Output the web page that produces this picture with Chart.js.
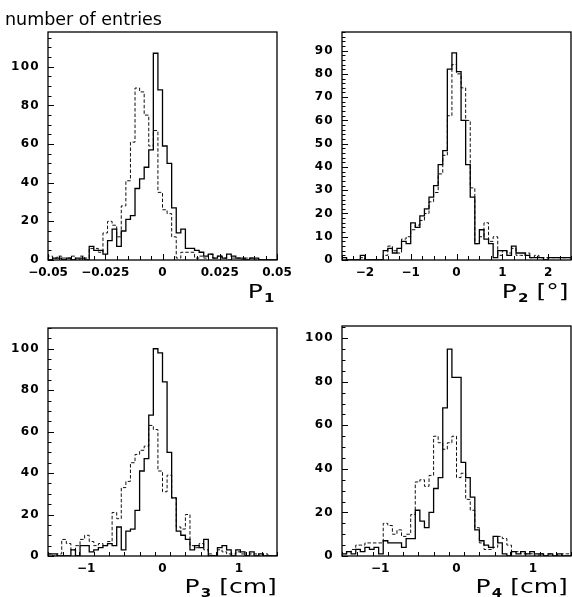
<!DOCTYPE html>
<html><head><meta charset="utf-8">
<script src="https://cdn.jsdelivr.net/npm/chart.js@4.4.0/dist/chart.umd.min.js"></script>
<style>
html,body{margin:0;padding:0;background:#fff;}
#wrap{position:relative;width:572px;height:597px;overflow:hidden;background:#fff;}
canvas{position:absolute;}
.t{position:absolute;font-family:'DejaVu Sans',sans-serif;color:#000;white-space:nowrap;line-height:20px;}
.ax{font-size:20px;transform:scaleX(1.25);transform-origin:100% 50%;}
.ax sub{font-size:12px;font-weight:bold;vertical-align:-4px;line-height:0;margin-left:1px;}
</style></head><body>
<div id="wrap">
<canvas id="c1" width="300" height="290" style="left:0;top:0"></canvas>
<canvas id="c2" width="286" height="290" style="left:286px;top:0"></canvas>
<canvas id="c3" width="300" height="296" style="left:0;top:290px"></canvas>
<canvas id="c4" width="286" height="296" style="left:286px;top:290px"></canvas>
<div class="t" style="left:5px;top:9px;font-size:17.5px">number of entries</div>
<div class="t ax" style="right:298px;top:281px">P<sub>1</sub></div>
<div class="t ax" style="right:4px;top:281px">P<sub>2</sub> [°]</div>
<div class="t ax" style="right:295px;top:576px">P<sub>3</sub> [cm]</div>
<div class="t ax" style="right:4px;top:576px">P<sub>4</sub> [cm]</div>
</div>
<script>
// ---- data (50 bins per histogram) ----
const p1Range = [-0.05, 0.05];
const p1Solid  = [1,0,1,1,0,1,0,1,1,0, 7,5,5,3,10,16,7,15,21,23, 37,42,48,57,107,88,59,50,27,14, 16,6,6,5,4,2,3,1,2,1, 3,2,1,1,0,1,1,0,0,0];
const p1Dashed = [1,2,1,2,1,1,2,0,2,1, 6,6,4,14,20,18,12,28,41,61, 89,87,75,59,67,35,26,24,12,1, 4,4,4,1,2,1,3,1,2,1, 0,1,1,0,1,1,0,0,0,0];
const p1XTicks = [-0.05, -0.025, 0, 0.025, 0.05];
const p1XLabels = ['\u22120.05', '\u22120.025', '0', '0.025', '0.05'];
const p1YTicks = [0, 20, 40, 60, 80, 100];

const p2Range = [-2.5, 2.5];
const p2Solid  = [1,1,0,0,0,2,0,0,0,0, 4,5,3,5,8,7,16,14,19,22, 27,32,41,47,82,89,81,60,41,27, 7,13,9,7,1,4,4,2,6,3, 3,2,1,1,1,0,1,1,1,1];
const p2Dashed = [1,0,0,0,0,1,0,0,0,0, 2,6,4,3,9,10,13,15,17,20, 25,29,37,45,62,84,80,74,60,31, 7,10,16,8,10,2,4,3,5,2, 2,3,1,2,1,1,1,1,1,1];
const p2XTicks = [-2, -1, 0, 1, 2];
const p2XLabels = ['\u22122', '\u22121', '0', '1', '2'];
const p2YTicks = [0, 10, 20, 30, 40, 50, 60, 70, 80, 90];

const p3Range = [-1.5, 1.5];
const p3Solid  = [1,1,1,0,0,0,3,0,5,5, 2,3,4,5,6,5,14,3,12,13, 22,41,47,68,100,98,84,50,28,12, 10,8,3,5,4,8,0,0,4,5, 3,0,3,2,0,2,0,1,0,0];
const p3Dashed = [1,1,0,1,8,6,3,5,8,10, 7,5,6,5,7,21,18,33,36,45, 49,51,53,63,61,41,31,39,28,14, 13,20,5,4,6,3,1,0,3,2, 1,1,2,1,0,1,1,0,1,0];
const p3XTicks = [-1, 0, 1];
const p3XLabels = ['\u22121', '0', '1'];
const p3YTicks = [0, 20, 40, 60, 80, 100];

const p4Range = [-1.5, 1.5];
const p4Solid  = [1,1,2,1,3,2,4,3,4,1, 7,6,6,6,4,8,8,21,16,13, 20,31,36,68,95,82,82,43,36,27, 12,7,5,4,9,6,1,0,2,1, 2,1,2,1,1,0,1,0,1,0];
const p4Dashed = [2,1,2,3,5,5,6,6,6,6, 15,14,10,12,9,10,19,34,35,32, 37,55,52,49,52,55,36,38,26,21, 13,6,3,3,4,9,8,5,2,2, 1,1,1,0,1,0,1,0,0,1];
const p4XTicks = [-1, 0, 1];
const p4XLabels = ['\u22121', '0', '1'];
const p4YTicks = [0, 20, 40, 60, 80, 100];

// ---- helpers ----
function histPoints(range, values) {
  const w = (range[1] - range[0]) / values.length;
  const pts = values.map((v, i) => ({ x: range[0] + i * w, y: v }));
  pts.push({ x: range[1], y: values[values.length - 1] });
  return pts;
}
function labelFor(ticks, labels, v) {
  const i = ticks.findIndex(t => Math.abs(t - v) < 1e-9);
  return i >= 0 ? labels[i] : '';
}

const framePlugin = {
  id: 'pawFrame',
  afterDatasetsDraw(chart, args, o) {
    const { ctx, chartArea: a } = chart;
    const xs = chart.scales.x, ys = chart.scales.y;
    ctx.save();
    ctx.strokeStyle = '#000';
    ctx.lineWidth = 1;
    ctx.beginPath();
    const nx = Math.round((xs.max - xs.min) / o.xMinor);
    for (let i = 0; i <= nx; i++) {
      const v = xs.min + i * o.xMinor;
      const major = o.xMajor.some(m => Math.abs(m - v) < 1e-9);
      const px = Math.round(xs.getPixelForValue(v)) + 0.5;
      ctx.moveTo(px, a.bottom);
      ctx.lineTo(px, a.bottom - (major ? o.xMajorLen : o.xMinorLen));
    }
    const ny = Math.floor(ys.max / o.yMinor + 1e-9);
    for (let i = 0; i <= ny; i++) {
      const v = i * o.yMinor;
      const major = o.yMajor.some(m => Math.abs(m - v) < 1e-9);
      const py = Math.round(ys.getPixelForValue(v)) + 0.5;
      ctx.moveTo(a.left, py);
      ctx.lineTo(a.left + (major ? 6 : 3.5), py);
    }
    ctx.stroke();
    ctx.lineWidth = 1.3;
    ctx.strokeRect(a.left, a.top, a.right - a.left, a.bottom - a.top);
    ctx.restore();
  }
};

const tickFont = { family: 'DejaVu Sans', size: 12, weight: 'bold' };

function makeChart(id, c) {
  const chart = new Chart(document.getElementById(id), {
    type: 'line',
    data: {
      datasets: [
        { data: histPoints(c.range, c.solid), borderColor: '#000', borderWidth: 1.3, stepped: 'after', pointRadius: 0, fill: false },
        { data: histPoints(c.range, c.dashed), borderColor: '#111', borderWidth: 1, borderDash: [3.5, 2], stepped: 'after', pointRadius: 0, fill: false }
      ]
    },
    options: {
      responsive: false, animation: false, events: [],
      layout: { padding: c.pad },
      plugins: {
        legend: { display: false }, tooltip: { enabled: false },
        pawFrame: { xMinor: c.xMinor, xMajor: c.xTicks, yMinor: c.yMinor, yMajor: c.yTicks, xMajorLen: 6, xMinorLen: 4 }
      },
      scales: {
        x: {
          type: 'linear', min: c.range[0], max: c.range[1],
          grid: { display: false, drawTicks: false }, border: { display: false },
          afterFit: s => { s.height = 30; },
          afterBuildTicks: s => { s.ticks = c.xTicks.map(v => ({ value: v })); },
          ticks: { autoSkip: false, maxRotation: 0, padding: 6, font: tickFont, color: '#000',
                   callback: v => labelFor(c.xTicks, c.xLabels, v) }
        },
        y: {
          type: 'linear', min: 0, max: c.ymax,
          grid: { display: false, drawTicks: false }, border: { display: false },
          afterFit: s => { s.width = c.yw; },
          afterBuildTicks: s => { s.ticks = c.yTicks.map(v => ({ value: v })); },
          ticks: { autoSkip: false, padding: 8, font: tickFont, color: '#000',
                   callback: v => String(v) }
        }
      }
    },
    plugins: [framePlugin]
  });
  // wider digit pitch for the y labels, like the original plotting font
  const ys = chart.scales.y;
  const orig = ys.drawLabels.bind(ys);
  ys.drawLabels = function (area) {
    const ctx = chart.ctx;
    ctx.save();
    if ('letterSpacing' in ctx) ctx.letterSpacing = '1.3px';
    orig(area);
    ctx.restore();
  };
  chart.draw();
}

makeChart('c1', { range: p1Range, solid: p1Solid, dashed: p1Dashed, xTicks: p1XTicks, xLabels: p1XLabels, yTicks: p1YTicks,
  ymax: 118, xMinor: 0.005, yMinor: 5, yw: 48, pad: { top: 32, right: 23, left: 0, bottom: 0 } });
makeChart('c2', { range: p2Range, solid: p2Solid, dashed: p2Dashed, xTicks: p2XTicks, xLabels: p2XLabels, yTicks: p2YTicks,
  ymax: 98, xMinor: 0.25, yMinor: 2, yw: 56, pad: { top: 32, right: 1, left: 0, bottom: 0 } });
makeChart('c3', { range: p3Range, solid: p3Solid, dashed: p3Dashed, xTicks: p3XTicks, xLabels: p3XLabels, yTicks: p3YTicks,
  ymax: 110, xMinor: 0.2, yMinor: 5, yw: 48, pad: { top: 38, right: 23, left: 0, bottom: 0 } });
makeChart('c4', { range: p4Range, solid: p4Solid, dashed: p4Dashed, xTicks: p4XTicks, xLabels: p4XLabels, yTicks: p4YTicks,
  ymax: 105.6, xMinor: 0.2, yMinor: 5, yw: 56, pad: { top: 36, right: 1, left: 0, bottom: 0 } });
</script>
</body></html>
